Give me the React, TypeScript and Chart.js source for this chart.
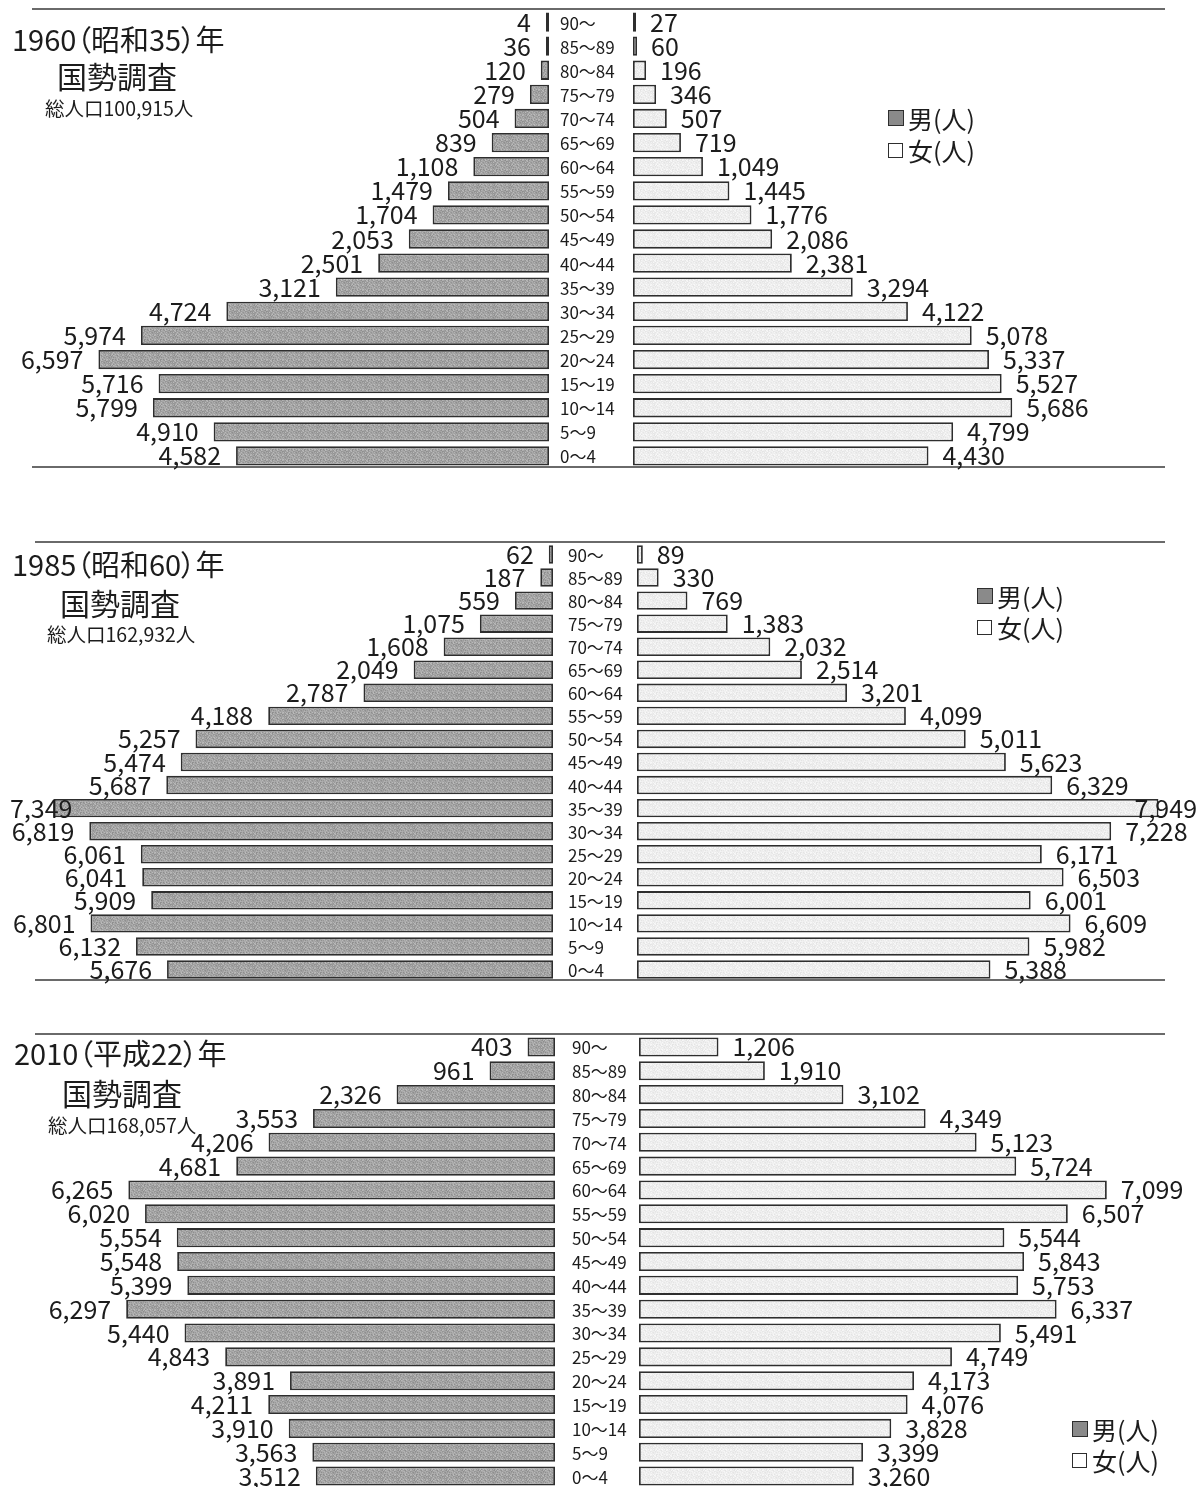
import React, { useEffect, useRef } from 'react';
import { Chart, registerables } from 'chart.js';

Chart.register(...registerables);

// ---------- data ----------
const AGE_GROUPS = ['90～', '85～89', '80～84', '75～79', '70～74', '65～69', '60～64', '55～59', '50～54', '45～49', '40～44', '35～39', '30～34', '25～29', '20～24', '15～19', '10～14', '5～9', '0～4'];

const MALE_1960 = [4, 36, 120, 279, 504, 839, 1108, 1479, 1704, 2053, 2501, 3121, 4724, 5974, 6597, 5716, 5799, 4910, 4582];
const FEMALE_1960 = [27, 60, 196, 346, 507, 719, 1049, 1445, 1776, 2086, 2381, 3294, 4122, 5078, 5337, 5527, 5686, 4799, 4430];

const MALE_1985 = [62, 187, 559, 1075, 1608, 2049, 2787, 4188, 5257, 5474, 5687, 7349, 6819, 6061, 6041, 5909, 6801, 6132, 5676];
const FEMALE_1985 = [89, 330, 769, 1383, 2032, 2514, 3201, 4099, 5011, 5623, 6329, 7949, 7228, 6171, 6503, 6001, 6609, 5982, 5388];

const MALE_2010 = [403, 961, 2326, 3553, 4206, 4681, 6265, 6020, 5554, 5548, 5399, 6297, 5440, 4843, 3891, 4211, 3910, 3563, 3512];
const FEMALE_2010 = [1206, 1910, 3102, 4349, 5123, 5724, 7099, 6507, 5544, 5843, 5753, 6337, 5491, 4749, 4173, 4076, 3828, 3399, 3260];

const YEAR_TITLES = ['1960（昭和35）年', '1985（昭和60）年', '2010（平成22）年'];
const SURVEY_LABEL = '国勢調査';
const TOTAL_LABELS = ['総人口100,915人', '総人口162,932人', '総人口168,057人'];
const LEGEND_MALE = '男(人)';
const LEGEND_FEMALE = '女(人)';

// ---------- layout / style ----------
const W = 1203;
const FONT = '"Noto Sans CJK JP", "Noto Sans", sans-serif';
const BORDER = '#2e2e2e';
const TEXT = '#1c1c1c';

// deterministic speckle texture (pure styling)
function makeTexture(base: number, amp: number): CanvasPattern | string {
  const tile = document.createElement('canvas');
  tile.width = 16;
  tile.height = 10;
  const c = tile.getContext('2d');
  if (!c) return `rgb(${base},${base},${base})`;
  const img = c.createImageData(16, 10);
  for (let y = 0; y < 10; y++) {
    for (let x = 0; x < 16; x++) {
      const h = ((x * 7 + y * 11 + ((x * y) % 5) * 3) % 9) - 4; // -4..4
      const v = Math.max(0, Math.min(255, base + (h * amp) / 4));
      const k = (y * 16 + x) * 4;
      img.data[k] = v; img.data[k + 1] = v; img.data[k + 2] = v; img.data[k + 3] = 255;
    }
  }
  c.putImageData(img, 0, 0);
  const pat = c.createPattern(tile, 'repeat');
  return pat || `rgb(${base},${base},${base})`;
}

type PanelLayout = {
  male: number[];
  female: number[];
  yearTitle: string;
  total: string;
  canvasTop: number;
  canvasH: number;
  padTop: number;
  padBottom: number;
  zm: number; sm: number;
  zf: number; sf: number;
  ageX: number;
  title: { x: number; cy: number };
  survey: { x: number; cy: number };
  totalPos: { x: number; cy: number };
  legend: { x: number; cy1: number; cy2: number };
};

const PANELS: PanelLayout[] = [
  {
    male: MALE_1960, female: FEMALE_1960, yearTitle: YEAR_TITLES[0], total: TOTAL_LABELS[0],
    canvasTop: 0, canvasH: 478, padTop: 10, padBottom: 10,
    zm: 549, sm: 0.0683, zf: 633, sf: 0.0667, ageX: 560,
    title: { x: 12, cy: 38 }, survey: { x: 57, cy: 75 }, totalPos: { x: 45, cy: 108 },
    legend: { x: 887, cy1: 118, cy2: 150 },
  },
  {
    male: MALE_1985, female: FEMALE_1985, yearTitle: YEAR_TITLES[1], total: TOTAL_LABELS[1],
    canvasTop: 533, canvasH: 458, padTop: 10, padBottom: 10,
    zm: 553, sm: 0.068, zf: 637, sf: 0.0656, ageX: 568,
    title: { x: 12, cy: 563 }, survey: { x: 60, cy: 602 }, totalPos: { x: 47, cy: 634 },
    legend: { x: 976, cy1: 596, cy2: 627 },
  },
  {
    male: MALE_2010, female: FEMALE_2010, yearTitle: YEAR_TITLES[2], total: TOTAL_LABELS[2],
    canvasTop: 1025, canvasH: 463, padTop: 10, padBottom: 0,
    zm: 555, sm: 0.0681, zf: 639, sf: 0.0659, ageX: 572,
    title: { x: 14, cy: 1052 }, survey: { x: 62, cy: 1092 }, totalPos: { x: 48, cy: 1125 },
    legend: { x: 1071, cy1: 1429, cy2: 1460 },
  },
];

const LINES = [
  { y: 9, x1: 32, x2: 1165 },
  { y: 467, x1: 32, x2: 1165 },
  { y: 542, x1: 35, x2: 1165 },
  { y: 980, x1: 35, x2: 1165 },
  { y: 1034, x1: 35, x2: 1165 },
];

const fmt = (v: number) => v.toLocaleString('en-US');

const labelPlugin = {
  id: 'pyramidLabels',
  afterDatasetsDraw(chart: any, _args: any, opts: any) {
    const ctx: CanvasRenderingContext2D = chart.ctx;
    const mMeta = chart.getDatasetMeta(0);
    const fMeta = chart.getDatasetMeta(1);
    const mVals = chart.data.datasets[0].data as number[];
    const fVals = chart.data.datasets[1].data as number[];
    ctx.save();
    ctx.fillStyle = TEXT;
    ctx.textBaseline = 'middle';
    ctx.textAlign = 'left';
    ctx.font = `${opts.valueSize}px ${FONT}`;
    mMeta.data.forEach((bar: any, i: number) => {
      const t = fmt(mVals[i]);
      const w = ctx.measureText(t).width;
      let left = bar.x - opts.maleGap - w;
      if (left < opts.minX) left = opts.minX;
      ctx.fillText(t, left, bar.y + opts.dy);
    });
    fMeta.data.forEach((bar: any, i: number) => {
      const t = fmt(fVals[i]);
      const w = ctx.measureText(t).width;
      let left = bar.x + opts.femaleGap;
      if (left + w > opts.maxX) left = opts.maxX - w;
      ctx.fillText(t, left, bar.y + opts.dy);
    });
    ctx.font = `${opts.ageSize}px ${FONT}`;
    (chart.data.labels as string[]).forEach((lab, i) => {
      const bar = mMeta.data[i];
      ctx.fillText(lab, opts.ageX, bar.y + 1);
    });
    ctx.restore();
  },
};

function Pyramid({ p }: { p: PanelLayout }) {
  const ref = useRef<HTMLCanvasElement | null>(null);
  useEffect(() => {
    if (!ref.current) return;
    const mMax = p.zm / p.sm;
    const mMin = mMax - W / p.sm;
    const fMin = -p.zf / p.sf;
    const fMax = fMin + W / p.sf;
    const maleFill = makeTexture(164, 22);
    const femaleFill = makeTexture(238, 10);
    const common = {
      borderColor: BORDER,
      borderWidth: 1.8,
      borderSkipped: false,
      grouped: false,
      barPercentage: 0.8,
      categoryPercentage: 1,
      minBarLength: 3,
    };
    const chart = new Chart(ref.current, {
      type: 'bar',
      data: {
        labels: AGE_GROUPS,
        datasets: [
          { label: LEGEND_MALE, data: p.male, xAxisID: 'xm', backgroundColor: maleFill, ...common } as any,
          { label: LEGEND_FEMALE, data: p.female, xAxisID: 'xf', backgroundColor: femaleFill, ...common } as any,
        ],
      },
      options: {
        indexAxis: 'y',
        responsive: false,
        animation: false,
        events: [],
        layout: { padding: { top: p.padTop, bottom: p.padBottom, left: 0, right: 0 } },
        scales: {
          xm: { type: 'linear', display: false, reverse: true, min: mMin, max: mMax, bounds: 'data', grace: 0 },
          xf: { type: 'linear', display: false, min: fMin, max: fMax, bounds: 'data', grace: 0 },
          y: { type: 'category', display: false, offset: true },
        },
        plugins: {
          legend: { display: false },
          tooltip: { enabled: false },
          pyramidLabels: { valueSize: 25, ageSize: 17, maleGap: 15, femaleGap: 14, minX: 10, maxX: 1197, ageX: p.ageX, dy: 0 },
        } as any,
      },
      plugins: [labelPlugin],
    });
    return () => chart.destroy();
  }, [p]);

  const txt = (s: string, x: number, cy: number, size: number, extra: any = {}) => (
    <div style={{ position: 'absolute', left: x, top: cy - size / 2, fontSize: size, lineHeight: `${size}px`, whiteSpace: 'nowrap', fontFeatureSettings: '"palt"', ...extra }}>{s}</div>
  );

  return (
    <>
      <canvas ref={ref} width={W} height={p.canvasH} style={{ position: 'absolute', left: 0, top: p.canvasTop, width: W, height: p.canvasH }} />
      {txt(p.yearTitle, p.title.x, p.title.cy, 29)}
      {txt(SURVEY_LABEL, p.survey.x, p.survey.cy, 30)}
      {txt(p.total, p.totalPos.x, p.totalPos.cy, 19.5)}
      <div style={{ position: 'absolute', left: p.legend.x + 1, top: p.legend.cy1 - 8, width: 14, height: 14, background: '#8a8a8a', border: `1.5px solid ${BORDER}` }} />
      {txt(LEGEND_MALE, p.legend.x + 21, p.legend.cy1, 25)}
      <div style={{ position: 'absolute', left: p.legend.x + 1, top: p.legend.cy2 - 7, width: 13, height: 13, background: '#fff', border: `1.5px solid ${BORDER}` }} />
      {txt(LEGEND_FEMALE, p.legend.x + 21, p.legend.cy2, 25)}
    </>
  );
}

export default function App() {
  return (
    <div style={{ position: 'absolute', left: 0, top: 0, width: W, height: 1487, overflow: 'hidden', background: '#fff', fontFamily: FONT, color: TEXT }}>
      {LINES.map((l, i) => (
        <div key={i} style={{ position: 'absolute', left: l.x1, top: l.y - 1, width: l.x2 - l.x1, height: 2, background: '#6a6a6a' }} />
      ))}
      {PANELS.map((p, i) => <Pyramid key={i} p={p} />)}
    </div>
  );
}
